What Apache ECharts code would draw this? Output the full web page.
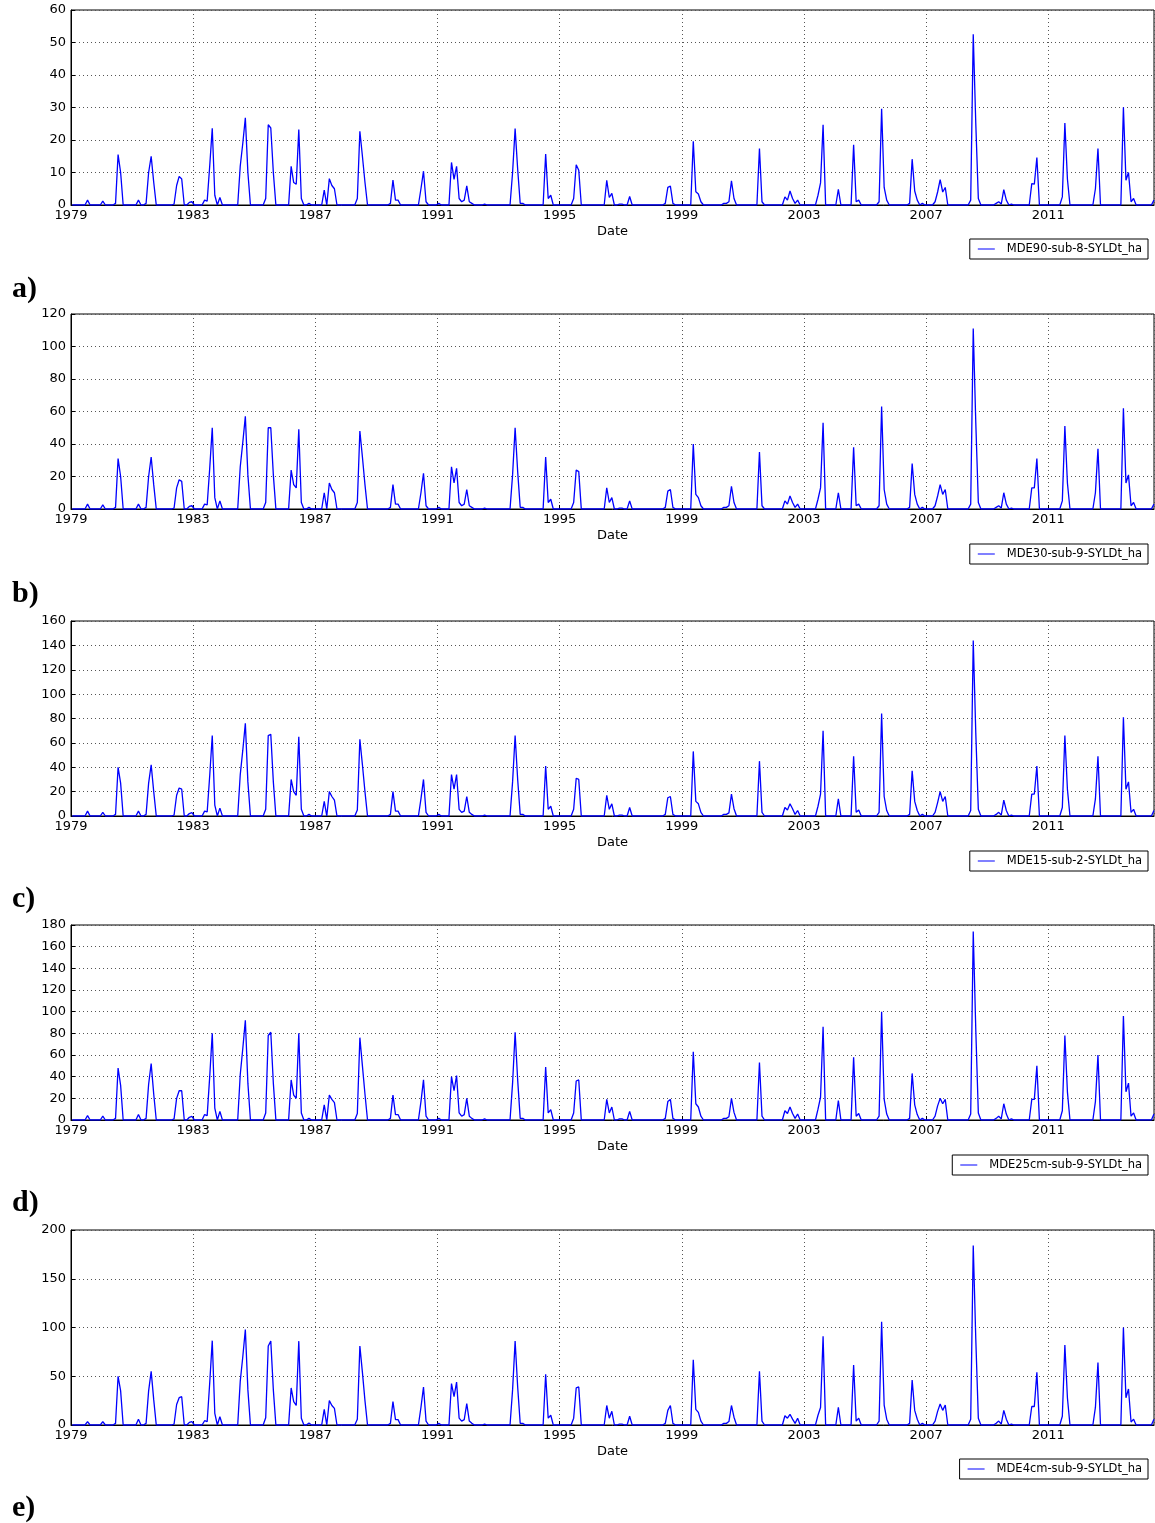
<!DOCTYPE html>
<html><head><meta charset="utf-8">
<script src="https://cdn.jsdelivr.net/npm/echarts@6/dist/echarts.min.js"></script>
<style>html,body{margin:0;padding:0;background:#fff}#c{width:1155px;height:1523px}</style>
</head><body><div id="c"></div><script>
// ---- data (monthly, month index 0 = Jan 1979) ----
const startYear = 1979;
const endYear = 2014.46;
const xTickYears = [1979, 1983, 1987, 1991, 1995, 1999, 2003, 2007, 2011];
const seriesNames = ['MDE90-sub-8-SYLDt_ha','MDE30-sub-9-SYLDt_ha','MDE15-sub-2-SYLDt_ha','MDE25cm-sub-9-SYLDt_ha','MDE4cm-sub-9-SYLDt_ha'];
const panelLabels = ['a)','b)','c)','d)','e)'];
const yMax = [60, 120, 160, 180, 200];
const yStep = [10, 20, 20, 20, 50];

// months where the line sits on zero between events
const baselineMonths = [0,5,7,11,13,16,20,25,27,28,33,39,44,45,48,51,57,59,65,70,75,80,85,91,92,94,98,100,104,111,116,124,129,136,140,143,145,148,158,161,163,172,178,185,189,196,200,209,213,214,217,218,220,232,237,243,248,255,261,269,272,279,286,292,296,300,302,306,310,316,321,328,333,335,338,344,352,357,362,368,370,376,380,388,392,401,404,412,418,424];

// months with non-zero values
const eventMonths = [6,12,17,18,19,26,29,30,31,32,40,41,42,43,46,47,52,53,54,55,56,58,66,67,68,69,76,77,78,79,86,87,88,89,90,93,99,101,102,103,112,113,114,115,125,126,127,128,137,138,139,144,149,150,151,152,153,154,155,156,157,162,173,174,175,176,177,186,187,188,197,198,199,210,211,212,215,216,219,233,234,235,236,244,245,246,247,256,257,258,259,260,270,271,280,281,282,283,284,285,293,294,295,301,307,308,309,317,318,319,320,329,330,331,332,334,339,340,341,342,343,353,354,355,356,363,364,365,366,367,369,377,378,379,389,390,391,402,403,413,414,415,416,417,425];

const sylA = [1.5,1.2,0.5,15.5,10,1.5,0.5,10,15,7,0.3,6,8.8,8,0.8,1,1.5,1.2,12,23.6,3,2.3,12,19,26.8,10,2,24.7,23.7,10,11.9,6.9,6.4,23.2,2,0.5,4.6,8.1,6,5,2,22.7,15,7,0.5,7.7,1.5,1.5,5,10.4,1,0.5,13.1,7.9,11.9,2,1,1.5,5.9,1,0.5,0.3,10,23.5,11,0.5,0.5,15.7,2,3,2,12.4,10.7,7.6,2.3,3.6,0.3,0.3,2.6,0.5,5.4,5.8,0.5,19.6,4.1,3.4,1,0.5,0.5,1,7.4,2,17.4,1,2.5,1.5,4.3,2,0.5,1.5,3,6.8,24.7,4.8,18.5,1,1.5,1,29.6,5.4,1.5,0.5,14.1,4.3,1.5,0.5,1,4,7.8,4,5.4,1.5,52.5,25,2,0.5,1,0.3,4.7,1.5,0.3,6.6,6.4,14.6,2.5,25.2,8,5,17.4,30.1,7.6,10,1,2,1.5];
const sylB = [3,2.5,1,31,20,3,1,20,32,15,0.6,13,18,17,1.6,2,3,2.5,25,50,7,5,26,41,57,21,4,50,50,21,24,15,13,49,4,1,10,16,12,10,4,48,32,15,1,15,3,3,10,22,2,1,26,16,25,4,2,3,12,2,1,0.6,21,50,23,1,1,32,4,6,4,24,23,13,4,7,0.6,0.6,5,1,11,12,1,40,9,7,2,1,1,2,14,4,35,2,5,3,8,4,1,3,6,13,53,10,38,2,3,2,63,12,3,1,28,9,3,1,2,8,15,9,12,3,111,53,4,1,2,0.6,10,3,0.6,13,13,31,5,51,16,10,37,62,16,21,2,4,3];
const sylC = [4,3,1.3,40,27,4,1.3,27,42,20,0.8,17,23,22,2,2.8,4,3.3,33,66,9,6.5,34,54,76,28,5.5,66,67,28,30,20,17,65,5.5,1.3,12,20,16,13,5,63,42,20,1.3,20,4,4,14,30,3,1.3,34,22,34,5.5,3,4,16,3,1.3,0.8,28,66,30,1.3,1.3,41,5.5,8,5.5,31,30,17,5.5,10,0.8,0.8,7,1.3,15,16,1.3,53,12,10,3,1.3,1.3,2.6,18,6,45,3,7,5,10,6,1.3,4.5,8,18,70,14,49,3,5,3,84,16,4.5,1.3,37,12,4.5,1.3,3,11,20,12,16,4.5,144,68,5.5,1.3,3,0.8,13,4.5,0.8,18,18,41,7,66,22,14,49,81,22,28,3,5.5,4.5];
const sylD = [4,3.5,1.5,48,32,5,1.5,33,52,24,1,20,27,27,2.5,3.3,5,4,40,80,11,8,42,66,92,34,6.5,78,81,34,37,23,20,80,6.5,1.5,14,23,19,16,6,76,50,24,1.5,23,5,5,17,37,3.5,1.5,40,27,41,6.5,3.5,5,20,3.5,1.5,1,34,81,37,1.5,1.5,49,6.5,9.5,6.5,36,37,19,6.5,12,1,1,8,1.5,17,19,1.5,63,15,12,3.5,1.5,1.5,3,20,7,53,3.5,8.5,6,12,6,1.5,5.5,10,21,86,18,58,3.5,6,3.5,100,19,5.5,1.5,43,14,5,1.5,3.5,13,20,15,19,5.5,174,83,6.5,1.5,3.5,1,15,5.5,1,19,19,50,8.5,78,26,17,60,96,26,34,3.5,6.5,5.5];
const sylE = [3.4,3.5,1.7,50,35,5.8,1.7,35,55,26,1,21,28,29,2.7,3.5,4.4,3.4,43,86.5,12,8.5,45,70,98,36,7.5,81,86,36,38,24,20,86,7,2,16,25,20,17,6,81,54,25,1.7,24,5.5,5.5,18,39,4,1.7,42.5,29,44,7,4,5.5,22,4,1.7,1,36,86,39,1.7,1.7,52,7,10,7,38,39,20,7,14,1,1,9,1.7,15,20,1.7,67,16,13,4,1.7,1.7,3.5,20,8,55,4,9.5,7,11,6,1.7,7,10,18,91,18,61.5,4,7,4,106,20.5,6,1.7,46,15,6,1.7,4,14,21.5,15,20.5,6,184,88,7,1.7,4,1,15,6,1,19,19,54,9,82,28,18,64,100,28,37,3,6,6];

const allVals = [sylA, sylB, sylC, sylD, sylE];

// ---- layout ----
const FONT = 'DejaVu Sans';
const gridTops = [10, 314, 621, 925, 1230];
const legendTops = [239, 544, 851, 1155, 1459];
const labelYs = [291, 596, 901, 1205, 1510];

function buildSeries(vals) {
  const rows = eventMonths.map((m, i) => [m, vals[i]]).concat(baselineMonths.map(m => [m, 0]));
  rows.sort((p, q) => p[0] - q[0]);
  return rows.map(r => [startYear + (r[0] + 0.5) / 12, r[1]]);
}

const grid = [], xAxis = [], yAxis = [], series = [], legend = [], graphic = [];
for (let i = 0; i < 5; i++) {
  grid.push({left: 71, width: 1083, top: gridTops[i], height: 195, show: true, borderColor: '#000', borderWidth: 1, backgroundColor: 'transparent'});
  xAxis.push({
    type: 'value', gridIndex: i, min: startYear, max: endYear, interval: 4,
    name: 'Date', nameLocation: 'middle', nameGap: 20,
    nameTextStyle: {fontFamily: FONT, fontSize: 13, color: '#000'},
    axisLine: {show: true, lineStyle: {color: '#000', width: 1}},
    axisTick: {show: true, inside: true, length: 4, lineStyle: {color: '#000'}},
    axisLabel: {fontFamily: FONT, fontSize: 13, color: '#000', margin: 4, showMaxLabel: false,
      formatter: v => { const r = Math.round(v); return (Math.abs(v - r) < 1e-6 && xTickYears.indexOf(r) >= 0) ? String(r) : ''; }},
    splitLine: {show: true, lineStyle: {type: [1, 3], color: '#555', width: 1}}
  });
  yAxis.push({
    type: 'value', gridIndex: i, min: 0, max: yMax[i], interval: yStep[i],
    axisLine: {show: true, lineStyle: {color: '#000', width: 1}},
    axisTick: {show: true, inside: true, length: 4, lineStyle: {color: '#000'}},
    axisLabel: {fontFamily: FONT, fontSize: 13, color: '#000', margin: 5},
    splitLine: {show: true, lineStyle: {type: [1, 3], color: '#555', width: 1}}
  });
  series.push({
    name: seriesNames[i], type: 'line', xAxisIndex: i, yAxisIndex: i,
    data: buildSeries(allVals[i]), showSymbol: false, symbol: 'none',
    lineStyle: {color: '#0000ff', width: 1.3}, itemStyle: {color: '#0000ff'},
    animation: false
  });
  legend.push({
    data: [seriesNames[i]], top: legendTops[i], right: 7,
    icon: 'rect', itemWidth: 17, itemHeight: 1,
    borderColor: '#000', borderWidth: 1, borderRadius: 0,
    padding: [4, 6, 4, 8], backgroundColor: '#fff',
    textStyle: {fontFamily: FONT, fontSize: 11.5, color: '#000', padding: [0, 0, 0, 7]}
  });
  graphic.push({
    type: 'text', left: 12, top: labelYs[i] - 17,
    style: {text: panelLabels[i], font: 'bold 30px "Liberation Serif", "Times New Roman", serif', fill: '#000'}
  });
}

const chart = echarts.init(document.getElementById('c'), null, {renderer: 'canvas'});
chart.setOption({animation: false, backgroundColor: '#fff', grid, xAxis, yAxis, series, legend, graphic});
</script></body></html>
